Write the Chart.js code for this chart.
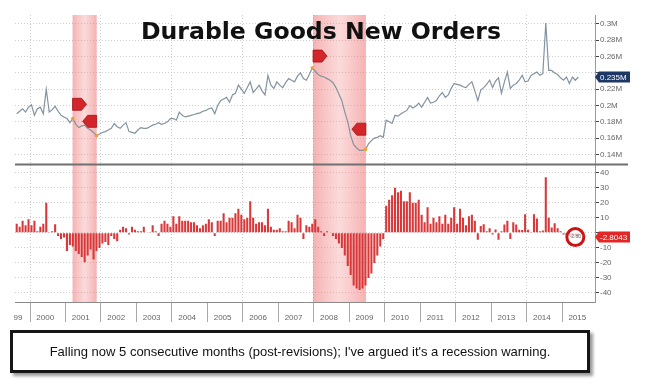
<!DOCTYPE html>
<html>
<head>
<meta charset="utf-8">
<title>Durable Goods New Orders</title>
<script src="https://cdn.jsdelivr.net/npm/chart.js@4.4.1/dist/chart.umd.min.js"></script>
<style>
  body { margin: 0; background: #fff; }
  #wrap { position: relative; width: 649px; height: 386px; overflow: hidden; }
  #chart { position: absolute; left: 0; top: 0; }
  #title {
    position: absolute; left: 0; top: 17px; width: 642px; text-align: center;
    font: bold 23.6px "DejaVu Sans", sans-serif; color: #111;
  }
  #note {
    position: absolute; left: 10px; top: 330px; width: 574px; height: 37px;
    border: 3px solid #161616; box-shadow: 3px 3px 3px #9a9a9a; background: #fff;
    font: 13px "Liberation Sans", Arial, sans-serif; color: #111;
    text-align: center; line-height: 37px; white-space: nowrap;
  }
</style>
</head>
<body>
<div id="wrap">
  <canvas id="chart" width="649" height="330"></canvas>
  <div id="title">Durable Goods New Orders</div>
  <div id="note">Falling now 5 consecutive months (post-revisions); I've argued it's a recession warning.</div>
</div>
<script>
// Monthly data, Aug 1999 - Jun 2015
const startYear = 1999, startMonth = 8;

// New orders, millions (top panel)
const newOrders = [
  0.190, 0.193, 0.196, 0.192, 0.198,                                              // 1999 Aug-Dec
  0.201, 0.188, 0.196, 0.198, 0.190, 0.220, 0.192, 0.195, 0.199, 0.193, 0.188, 0.186, // 2000
  0.184, 0.179, 0.184, 0.177, 0.173, 0.175, 0.176, 0.172, 0.170, 0.167, 0.163, 0.165, // 2001
  0.167, 0.168, 0.170, 0.172, 0.178, 0.174, 0.172, 0.176, 0.179, 0.168, 0.167, 0.166, // 2002
  0.170, 0.173, 0.172, 0.172, 0.174, 0.176, 0.177, 0.179, 0.177, 0.178, 0.180, 0.184, // 2003
  0.184, 0.182, 0.192, 0.188, 0.186, 0.187, 0.188, 0.189, 0.190, 0.191, 0.193, 0.194, // 2004
  0.196, 0.197, 0.190, 0.200, 0.206, 0.208, 0.210, 0.204, 0.213, 0.215, 0.225, 0.220, // 2005
  0.215, 0.222, 0.229, 0.216, 0.220, 0.225, 0.218, 0.213, 0.237, 0.225, 0.221, 0.229, // 2006
  0.225, 0.222, 0.228, 0.233, 0.231, 0.229, 0.236, 0.240, 0.233, 0.231, 0.238, 0.246, // 2007
  0.242, 0.238, 0.236, 0.235, 0.233, 0.231, 0.228, 0.222, 0.214, 0.206, 0.192, 0.180, // 2008
  0.163, 0.152, 0.148, 0.145, 0.145, 0.146, 0.153, 0.157, 0.160, 0.161, 0.163, 0.161, // 2009
  0.182, 0.180, 0.178, 0.188, 0.187, 0.190, 0.192, 0.194, 0.200, 0.197, 0.199, 0.203, // 2010
  0.198, 0.204, 0.210, 0.203, 0.204, 0.206, 0.212, 0.216, 0.210, 0.213, 0.221, 0.227, // 2011
  0.226, 0.225, 0.223, 0.222, 0.226, 0.229, 0.218, 0.206, 0.219, 0.222, 0.226, 0.231, // 2012
  0.222, 0.230, 0.234, 0.215, 0.229, 0.241, 0.221, 0.225, 0.227, 0.231, 0.237, 0.229, // 2013
  0.230, 0.237, 0.239, 0.241, 0.237, 0.239, 0.301, 0.243, 0.243, 0.240, 0.238, 0.234, // 2014
  0.231, 0.235, 0.227, 0.235, 0.231, 0.235                                         // 2015 Jan-Jun
];

// Year-over-year % change (bottom panel)
const yoyChange = [
  6, 4, 8, 5, 9,                                           // 1999 Aug-Dec
  5, 8, 1, 4, 6, 20, 0.5, 1, 5.7, -2, -4, -3,              // 2000
  -12, -8, -9, -12, -14, -16, -19.6, -15, -11, -17.8, -12, -10, // 2001
  -7, -6, -8, -2, -4, -5.6, 2, 4, 3, -1, 4, 2,             // 2002
  1, 1, 4, 0, 0.5, 5, 1, -2, 6, 8, 6, 4,                   // 2003
  11, 6, 11, 8, 8, 8, 7, 7, 5, 3, 5, 6,                    // 2004
  9, 7, -2, 8, 8, 13, 7, 10, 10, 13, 16, 12,               // 2005
  9, 10, 21, 10, 6, 7, 7, 5, 16, 4, 2, 2,                  // 2006
  3, 1, 1, 8, 7, 3, 12, 10, -4, 5, 4, 6,                   // 2007
  9, 4, 1, -2, 1, 0, -2, -4, -7, -10, -15, -22,            // 2008
  -28, -35, -37, -38, -37, -35, -30, -27, -20, -15, -9, -4, // 2009
  18, 22, 25, 30, 27, 28, 21, 21, 27, 20, 20, 22,          // 2010
  12, 7, 17, 6, 10, 7, 11, 6, 12, 6, 10, 17,               // 2011
  6, 16, 10, 5, 11, 12, 8, -4.5, 4.5, 5.7, 1, 3,           // 2012
  -1, 2.3, -4.5, 1, 5.6, 8, -4, 7, 5.6, 2, 1.9, 12.4,      // 2013
  2, 0.5, 12.4, 9.5, 1, 1.5, 37, 10, 3.6, 6.4, 3, 1,       // 2014
  -1, -1.5, -2, -2.5, -2.2, -2.8043                        // 2015 Jan-Jun
];

const topTicks = [0.14, 0.16, 0.18, 0.2, 0.22, 0.24, 0.26, 0.28, 0.3];
const bottomTicks = [-40, -30, -20, -10, 0, 10, 20, 30, 40];
const yearLabels = ['2000', '2001', '2002', '2003', '2004', '2005', '2006', '2007',
                    '2008', '2009', '2010', '2011', '2012', '2013', '2014', '2015'];

// NBER recessions (decimal years) and peak / trough flags
const recessions = [[2001.2, 2001.88], [2007.98, 2009.47]];
const flagDates  = [2001.2, 2001.88, 2007.98, 2009.47];
const flagLevels = [0.2015, 0.1806, 0.2606, 0.171];
const flagDirs   = ['right', 'left', 'right', 'left'];
const flagMonths = ['2001-03', '2001-11', '2007-12', '2009-06'];

// month labels and decimal-year positions
const months = [];
const monthPos = [];
for (let i = 0; i < newOrders.length; i++) {
  const m0 = startMonth - 1 + i;
  const y = startYear + Math.floor(m0 / 12), m = (m0 % 12) + 1;
  months.push(y + '-' + String(m).padStart(2, '0'));
  monthPos.push(y + (m - 0.5) / 12);
}

const xMin = 1999.577, xMax = 2015.929;

// x ticks: year boundaries (separators) and year labels just left of mid-year
const xTicks = [{ value: 1999.66, label: '99', kind: 'label' }];
for (let y = 2000; y <= 2015; y++) {
  xTicks.push({ value: y, label: '', kind: 'sep' });
  xTicks.push({ value: y + 0.43, label: yearLabels[y - 2000], kind: 'label' });
}
xTicks.sort((a, b) => a.value - b.value);

const lastOrders = newOrders[newOrders.length - 1];
const lastChange = yoyChange[yoyChange.length - 1];

function flagPath(ctx, px, py, dir) {
  const w = 14, h = 6, n = 5;
  ctx.beginPath();
  if (dir === 'right') {
    ctx.moveTo(px, py - h); ctx.lineTo(px + w - n, py - h); ctx.lineTo(px + w, py);
    ctx.lineTo(px + w - n, py + h); ctx.lineTo(px, py + h);
  } else {
    ctx.moveTo(px, py - h); ctx.lineTo(px - w + n, py - h); ctx.lineTo(px - w, py);
    ctx.lineTo(px - w + n, py + h); ctx.lineTo(px, py + h);
  }
  ctx.closePath();
}

function valueTag(ctx, x, y, text, fill) {
  ctx.beginPath();
  ctx.moveTo(x, y); ctx.lineTo(x + 4, y - 5.5); ctx.lineTo(x + 35, y - 5.5);
  ctx.lineTo(x + 35, y + 5.5); ctx.lineTo(x + 4, y + 5.5); ctx.closePath();
  ctx.fillStyle = fill;
  ctx.fill();
  ctx.fillStyle = '#fff';
  ctx.font = '8px "Liberation Sans", Arial';
  ctx.textAlign = 'left';
  ctx.textBaseline = 'middle';
  ctx.fillText(text, x + 5, y + 0.5);
}

const overlays = {
  id: 'overlays',
  beforeDatasetsDraw(chart) {
    const { ctx, chartArea: a, scales: { x } } = chart;
    ctx.save();
    recessions.forEach(([s, e]) => {
      const x0 = x.getPixelForValue(s), x1 = x.getPixelForValue(e);
      const g = ctx.createLinearGradient(x0, 0, x1, 0);
      g.addColorStop(0, 'rgba(236,92,92,0.48)');
      g.addColorStop(0.5, 'rgba(244,140,140,0.32)');
      g.addColorStop(1, 'rgba(236,92,92,0.48)');
      ctx.fillStyle = g;
      ctx.fillRect(x0, a.top, x1 - x0, a.bottom - a.top);
    });
    ctx.restore();
  },
  afterDraw(chart) {
    const { ctx, chartArea: a, scales: { x, yTop, yBot } } = chart;
    ctx.save();
    // panel separator
    ctx.strokeStyle = '#707070';
    ctx.lineWidth = 2;
    ctx.beginPath();
    ctx.moveTo(a.left, yTop.bottom);
    ctx.lineTo(628, yTop.bottom);
    ctx.stroke();

    // peak / trough flags
    flagDates.forEach((d, i) => {
      const px = x.getPixelForValue(d), py = yTop.getPixelForValue(flagLevels[i]);
      flagPath(ctx, px, py, flagDirs[i]);
      ctx.fillStyle = '#d3262a';
      ctx.fill();
      ctx.strokeStyle = '#a51418';
      ctx.lineWidth = 0.8;
      ctx.stroke();
    });

    // last value tags on the right axis
    valueTag(ctx, a.right, yTop.getPixelForValue(lastOrders), lastOrders + 'M', '#1d3766');
    valueTag(ctx, a.right, yBot.getPixelForValue(lastChange), lastChange.toFixed(4), '#e32626');

    // red ring around latest months
    const cx = x.getPixelForValue(monthPos[monthPos.length - 2]);
    const cy = yBot.getPixelForValue(lastChange);
    ctx.beginPath();
    ctx.arc(cx, cy, 8.5, 0, Math.PI * 2);
    ctx.fillStyle = 'rgba(255,255,255,0.75)';
    ctx.fill();
    ctx.strokeStyle = '#cc1414';
    ctx.lineWidth = 3;
    ctx.stroke();
    ctx.fillStyle = '#666';
    ctx.font = '5px "Liberation Sans", Arial';
    ctx.textAlign = 'center';
    ctx.textBaseline = 'middle';
    ctx.fillText('-2.80', cx, cy);
    ctx.restore();
  }
};

const axisFont = { family: '"Liberation Sans", Arial, sans-serif', size: 8 };

new Chart(document.getElementById('chart'), {
  data: {
    datasets: [
      {
        type: 'line',
        label: 'New Orders',
        data: newOrders.map((v, i) => ({ x: monthPos[i], y: v })),
        yAxisID: 'yTop',
        borderColor: '#8393a0',
        borderWidth: 1.2,
        tension: 0,
        pointRadius: c => flagMonths.includes(months[c.dataIndex]) ? 1.8 : 0,
        pointBackgroundColor: '#eea035',
        pointBorderWidth: 0
      },
      {
        type: 'bar',
        label: 'YoY %',
        data: yoyChange.map((v, i) => ({ x: monthPos[i], y: v })),
        yAxisID: 'yBot',
        backgroundColor: '#d8383a',
        borderWidth: 0,
        barPercentage: 0.7,
        categoryPercentage: 1
      }
    ]
  },
  options: {
    responsive: false,
    animation: false,
    devicePixelRatio: 1,
    layout: { padding: { left: 15, top: 15, right: 0, bottom: 0 } },
    plugins: { legend: { display: false }, tooltip: { enabled: false } },
    scales: {
      x: {
        type: 'linear',
        offset: false,
        min: xMin,
        max: xMax,
        afterBuildTicks: s => { s.ticks = xTicks.map(t => ({ value: t.value })); },
        afterFit: s => { s.height = 28; },
        grid: {
          offset: false,
          color: c => {
            const t = xTicks[c.index];
            return t && t.kind === 'sep' && t.value % 2 === 0 ? '#cdcdcd' : 'transparent';
          },
          tickColor: c => {
            const t = xTicks[c.index];
            return t && t.kind === 'sep' ? '#a8a8a8' : 'transparent';
          },
          tickLength: 20,
          lineWidth: 1
        },
        border: { display: true, color: '#8a8a8a', width: 1, dash: [1, 2] },
        ticks: {
          autoSkip: false,
          maxRotation: 0,
          padding: -9,
          font: axisFont,
          color: '#666',
          callback: (v, i) => xTicks[i] ? xTicks[i].label : ''
        }
      },
      yTop: {
        type: 'linear',
        position: 'right',
        stack: 'panels',
        stackWeight: 149.5,
        min: 0.1277,
        max: 0.311,
        afterBuildTicks: s => { s.ticks = topTicks.map(v => ({ value: v })); },
        afterFit: s => { s.width = 54; },
        grid: { color: '#cfcfcf', lineWidth: 1, tickLength: 4, tickColor: '#444' },
        border: { display: true, color: '#9a9a9a', dash: [1, 2] },
        ticks: {
          autoSkip: false,
          font: axisFont,
          color: '#666',
          padding: 1,
          callback: v => Math.abs(v - lastOrders) < 0.008 ? '' : v + 'M'
        }
      },
      yBot: {
        type: 'linear',
        position: 'right',
        stack: 'panels',
        stackWeight: 137.5,
        min: -46,
        max: 45.5,
        afterBuildTicks: s => { s.ticks = bottomTicks.map(v => ({ value: v })); },
        afterFit: s => { s.width = 54; },
        grid: { color: '#cfcfcf', lineWidth: 1, tickLength: 4, tickColor: '#444' },
        border: { display: true, color: '#9a9a9a', dash: [1, 2] },
        ticks: {
          autoSkip: false,
          font: axisFont,
          color: '#666',
          padding: 1,
          callback: v => Math.abs(v - lastChange) < 6 ? '' : String(v)
        }
      }
    }
  },
  plugins: [overlays]
});
</script>
</body>
</html>
